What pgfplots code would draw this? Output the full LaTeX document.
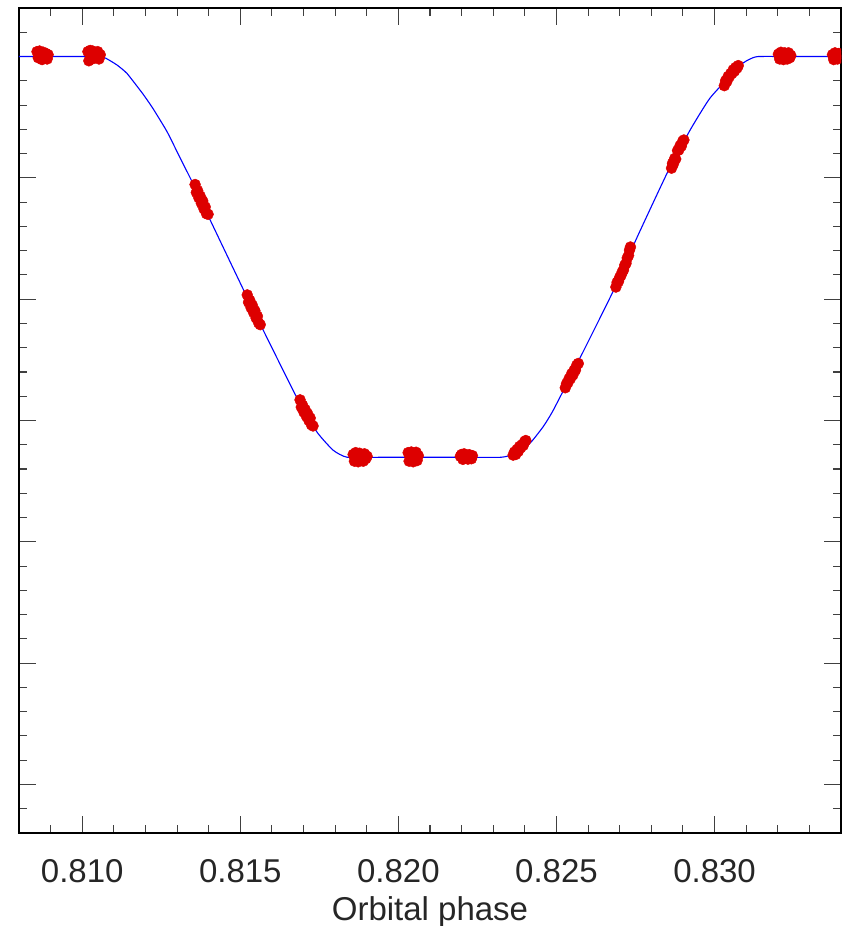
\documentclass[border=0pt]{standalone}
\usepackage{pgfplots}
\pgfplotsset{compat=1.18}
\usepackage{fontspec}
\setmainfont{Liberation Sans}
\definecolor{ptred}{RGB}{221,0,0}
\definecolor{ptblue}{RGB}{0,0,255}
\begin{document}
\begin{tikzpicture}
\useasboundingbox (-19bp,-93bp) rectangle (829bp,833bp);
\begin{axis}[
  at={(0,0)}, anchor=south west,
  scale only axis, width=822bp, height=825bp,
  xmin=0.808, xmax=0.834, ymin=0.36, ymax=1.04,
  xtick={0.810,0.815,0.820,0.825,0.830},
  xticklabels={{0.810},{0.815},{0.820},{0.825},{0.830}},
  minor xtick={0.809,0.811,0.812,0.813,0.814,0.816,0.817,0.818,0.819,0.821,0.822,0.823,0.824,0.826,0.827,0.828,0.829,0.831,0.832,0.833},
  ytick={0.4,0.5,0.6,0.7,0.8,0.9,1.0},
  yticklabels={},
  minor ytick={0.38,0.42,0.44,0.46,0.48,0.52,0.54,0.56,0.58,0.62,0.64,0.66,0.68,0.72,0.74,0.76,0.78,0.82,0.84,0.86,0.88,0.92,0.94,0.96,0.98,1.02},
  tick align=inside, xtick pos=both, ytick pos=both,
  xticklabel pos=lower,
  major tick length=17bp, minor tick length=8bp,
  every tick/.style={black!75, line width=1.1bp},
  axis line style={black, line width=1.2bp},
  /pgf/number format/assume math mode=true,
  ticklabel style={font=\fontsize{33bp}{40bp}\selectfont, text=black!85},
  xticklabel style={anchor=base, yshift=-49bp},
  xlabel={Orbital phase},
  xlabel style={font=\fontsize{33bp}{40bp}\selectfont, text=black!85, at={(axis description cs:0.5,0)}, anchor=base, yshift=-87bp},
  clip marker paths=true,
]
% model light curve
\addplot[ptblue, line width=1.1bp, mark=none, smooth, tension=0.3] coordinates {
(0.8080,1.0000) (0.8100,1.0000) (0.810563,1.0000) (0.810753,0.9985) (0.811101,0.9930) (0.811418,0.9860)
(0.811924,0.9690) (0.812241,0.9570) (0.812684,0.9380) (0.813095,0.9165) (0.813475,0.8968)
(0.814044,0.8654) (0.815057,0.8101) (0.815722,0.7746) (0.816797,0.7184) (0.817430,0.6903)
(0.817937,0.6755) (0.818380,0.6697) (0.8195,0.6697) (0.8210,0.6697) (0.8222,0.6697) (0.823253,0.6697) (0.823696,0.6725) (0.824171,0.6815)
(0.824582,0.6950) (0.824899,0.7085) (0.825753,0.7520) (0.826766,0.8051) (0.827557,0.8514)
(0.828506,0.9042) (0.829234,0.9397) (0.829867,0.9661) (0.830816,0.9928) (0.831133,0.9981)
(0.831386,1.0000) (0.8325,1.0000) (0.8340,1.0000)
};
% observations
\addplot[only marks, mark=*, mark size=5.5bp, mark options={draw=ptred, fill=ptred}] coordinates {
(0.80857,1.0040) (0.80861,0.9990) (0.80865,1.0045) (0.80869,1.0005) (0.80873,0.9975) (0.80877,1.0035) (0.80881,0.9995) (0.80885,1.0025) (0.80889,0.9980) (0.80892,1.0015)
(0.81018,1.0040) (0.81021,0.9965) (0.81025,1.0050) (0.81029,1.0005) (0.81033,1.0045) (0.81037,0.9985) (0.81041,1.0030) (0.81045,0.9995) (0.81049,1.0040) (0.81053,0.9980) (0.81057,1.0015)
(0.81357,0.8945) (0.81361,0.8880) (0.81365,0.8895) (0.81369,0.8835) (0.81373,0.8850) (0.81377,0.8790) (0.81381,0.8810) (0.81385,0.8745) (0.81389,0.8760) (0.81393,0.8705) (0.81398,0.8700)
(0.81522,0.8035) (0.81526,0.7975) (0.81530,0.7990) (0.81534,0.7930) (0.81538,0.7950) (0.81542,0.7890) (0.81546,0.7905) (0.81550,0.7845) (0.81554,0.7860) (0.81558,0.7805) (0.81563,0.7790)
(0.81689,0.7170) (0.81693,0.7110) (0.81697,0.7125) (0.81701,0.7070) (0.81705,0.7090) (0.81709,0.7035) (0.81713,0.7055) (0.81717,0.7000) (0.81721,0.7020) (0.81725,0.6965) (0.81730,0.6955)
(0.81857,0.6720) (0.81861,0.6665) (0.81865,0.6735) (0.81869,0.6690) (0.81873,0.6660) (0.81877,0.6730) (0.81881,0.6680) (0.81885,0.6715) (0.81889,0.6665) (0.81893,0.6725) (0.81897,0.6685) (0.81901,0.6705)
(0.82031,0.6735) (0.82034,0.6665) (0.82037,0.6700) (0.82041,0.6740) (0.82044,0.6680) (0.82047,0.6660) (0.82050,0.6720) (0.82053,0.6690) (0.82056,0.6738) (0.82059,0.6670) (0.82063,0.6710)
(0.82196,0.6705) (0.82200,0.6720) (0.82204,0.6680) (0.82208,0.6725) (0.82212,0.6690) (0.82216,0.6712) (0.82220,0.6682) (0.82224,0.6718) (0.82228,0.6695) (0.82231,0.6685) (0.82234,0.6710)
(0.82363,0.6715) (0.82367,0.6740) (0.82371,0.6720) (0.82375,0.6760) (0.82379,0.6745) (0.82383,0.6785) (0.82387,0.6775) (0.82391,0.6800) (0.82395,0.6795) (0.82399,0.6825) (0.82403,0.6835)
(0.82528,0.7270) (0.82532,0.7305) (0.82536,0.7310) (0.82540,0.7345) (0.82544,0.7345) (0.82548,0.7385) (0.82552,0.7375) (0.82556,0.7415) (0.82560,0.7415) (0.82564,0.7455) (0.82569,0.7470)
(0.82688,0.8100) (0.82692,0.8140) (0.82696,0.8145) (0.82700,0.8180) (0.82704,0.8195) (0.82708,0.8225) (0.82712,0.8240) (0.82716,0.8280) (0.82720,0.8295) (0.82724,0.8340) (0.82728,0.8360) (0.82731,0.8405) (0.82734,0.8430)
(0.82864,0.9080) (0.82867,0.9120) (0.82870,0.9115) (0.82874,0.9160) (0.82877,0.9155) (0.82883,0.9225) (0.82887,0.9230) (0.82891,0.9265) (0.82895,0.9262) (0.82899,0.9300) (0.82903,0.9312)
(0.83031,0.9760) (0.83035,0.9800) (0.83039,0.9795) (0.83043,0.9835) (0.83047,0.9835) (0.83051,0.9860) (0.83055,0.9860) (0.83059,0.9890) (0.83063,0.9880) (0.83067,0.9910) (0.83071,0.9905) (0.83075,0.9925)
(0.83202,1.0020) (0.83206,0.9980) (0.83210,1.0035) (0.83214,0.9995) (0.83218,0.9975) (0.83222,1.0030) (0.83226,1.0000) (0.83230,0.9980) (0.83234,1.0030) (0.83238,0.9990) (0.83241,1.0010)
(0.83373,1.0015) (0.83377,0.9975) (0.83381,1.0030) (0.83385,0.9995) (0.83389,0.9980) (0.83393,1.0025) (0.83397,1.0000) (0.83401,0.9985) (0.83405,1.0020) (0.83409,0.9995) (0.83413,0.9980)
};
\end{axis}
\end{tikzpicture}
\end{document}
